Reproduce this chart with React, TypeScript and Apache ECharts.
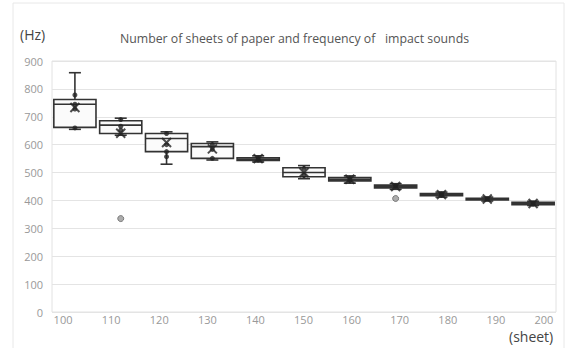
import React, { useEffect, useRef } from "react";
import * as echarts from "echarts";

const categories = ["100", "110", "120", "130", "140", "150", "160", "170", "180", "190", "200"];
const tickLabels = [100, 110, 120, 130, 140, 150, 160, 170, 180, 190, 200];
const yTicks = [0, 100, 200, 300, 400, 500, 600, 700, 800, 900];

// [min, Q1, median, Q3, max]
const boxMin = [655, 634, 530, 545, 538, 478, 462, 440, 412, 398, 382];
const boxQ1 = [662, 640, 575, 551, 543, 485, 470, 445, 417, 402, 385];
const boxMedian = [745, 670, 622, 593, 548, 500, 476, 450, 421, 405, 389];
const boxQ3 = [762, 686, 640, 604, 553, 517, 482, 455, 425, 408, 393];
const boxMax = [858, 695, 646, 610, 560, 525, 488, 460, 430, 412, 397];

const means = [733, 641, 608, 585, 550, 500, 476, 450, 421, 405, 389];

// inner points: [category index, value]
const innerPoints = [
  [0, 778], [0, 745], [0, 728], [0, 660],
  [1, 690], [1, 666], [1, 652],
  [2, 640], [2, 600], [2, 575], [2, 557],
  [3, 600], [3, 583], [3, 551],
  [4, 552], [4, 545],
  [5, 515], [5, 490],
  [6, 480], [6, 470],
  [7, 452],
  [8, 424], [8, 418],
  [9, 406],
  [10, 391], [10, 386],
];
const outliers = [
  [1, 335],
  [7, 407],
];

export default function App() {
  const ref = useRef<HTMLDivElement>(null);
  useEffect(() => {
    if (!ref.current) return;
    const chart = echarts.init(ref.current, undefined, { renderer: "svg" });
    const boxData = categories.map((_, i) => [i, boxMin[i], boxQ1[i], boxMedian[i], boxQ3[i], boxMax[i]]);
    const font = "'Open Sans', 'Noto Sans', sans-serif";
    const stroke = "#333";
    const renderBox = (params: any, api: any) => {
      const i = api.value(0);
      const pMin = api.coord([i, api.value(1)]);
      const pQ1 = api.coord([i, api.value(2)]);
      const pMed = api.coord([i, api.value(3)]);
      const pQ3 = api.coord([i, api.value(4)]);
      const pMax = api.coord([i, api.value(5)]);
      const band = api.size([1, 0])[0];
      const half = band * 0.46;
      const cap = 6;
      const x = pMed[0];
      const ls = { stroke, lineWidth: 1.6 };
      return {
        type: "group",
        children: [
          { type: "line", shape: { x1: x, y1: pQ3[1], x2: x, y2: pMax[1] }, style: ls },
          { type: "line", shape: { x1: x, y1: pQ1[1], x2: x, y2: pMin[1] }, style: ls },
          { type: "line", shape: { x1: x - cap, y1: pMax[1], x2: x + cap, y2: pMax[1] }, style: ls },
          { type: "line", shape: { x1: x - cap, y1: pMin[1], x2: x + cap, y2: pMin[1] }, style: ls },
          {
            type: "rect",
            shape: { x: x - half, y: pQ3[1], width: half * 2, height: pQ1[1] - pQ3[1] },
            style: { fill: "#fbfbfb", stroke, lineWidth: 1.6 },
          },
          { type: "line", shape: { x1: x - half, y1: pMed[1], x2: x + half, y2: pMed[1] }, style: ls },
        ],
      };
    };
    chart.setOption({
      animation: false,
      textStyle: { fontFamily: font },
      grid: {
        left: 52,
        right: 9,
        top: 61,
        bottom: 36,
        show: true,
        borderColor: "#e2e2e2",
        borderWidth: 1,
      },
      graphic: [
        {
          type: "rect",
          shape: { x: 13, y: 3, width: 551, height: 350 },
          style: { fill: "none", stroke: "#e8e8e8", lineWidth: 1 },
          silent: true,
        },
        {
          type: "text",
          left: 20,
          top: 27,
          style: { text: "(Hz)", fontSize: 14, fill: "#444", fontFamily: font },
        },
        {
          type: "text",
          left: 120,
          top: 32,
          style: {
            text: "Number of sheets of paper and frequency of   impact sounds",
            fontSize: 12.3,
            fill: "#555",
            fontFamily: font,
          },
        },
        {
          type: "text",
          left: 509,
          top: 329,
          style: { text: "(sheet)", fontSize: 14, fill: "#444", fontFamily: font },
        },
      ],
      xAxis: [
        {
          type: "category",
          data: categories,
          boundaryGap: true,
          axisLabel: { show: false },
          axisTick: { show: false },
          axisLine: { show: false },
          splitLine: { show: false },
        },
        {
          type: "value",
          position: "bottom",
          min: 97.7,
          max: 202.5,
          axisLabel: {
            customValues: tickLabels,
            color: "#999",
            fontSize: 11,
            margin: 2,
            fontFamily: font,
          },
          axisTick: { show: false },
          axisLine: { show: false },
          splitLine: { show: false },
        },
      ],
      yAxis: {
        type: "value",
        min: 0,
        max: 900,
        interval: 100,
        axisLabel: {
          color: "#999",
          fontSize: 11,
          margin: 9,
          fontFamily: font,
          customValues: yTicks,
        },
        axisLine: { show: false },
        axisTick: { show: false },
        splitLine: { lineStyle: { color: "#e4e4e4", width: 1 } },
      },
      series: [
        {
          type: "custom",
          xAxisIndex: 0,
          data: boxData,
          renderItem: renderBox,
          encode: { x: 0, y: [1, 2, 3, 4, 5] },
          z: 2,
        },
        {
          type: "scatter",
          xAxisIndex: 0,
          data: innerPoints,
          symbol: "circle",
          symbolSize: 5,
          itemStyle: { color: "#222" },
          z: 3,
        },
        {
          type: "scatter",
          xAxisIndex: 0,
          data: means.map((v, i) => [i, v]),
          symbol: "path://M0,0L10,10M10,0L0,10",
          symbolSize: 9,
          itemStyle: { color: "none", borderColor: "#222", borderWidth: 2 },
          z: 4,
        },
        {
          type: "scatter",
          xAxisIndex: 0,
          data: outliers,
          symbol: "circle",
          symbolSize: 6,
          itemStyle: { color: "#999", borderColor: "#666", borderWidth: 1 },
          z: 3,
        },
      ],
    });
    return () => chart.dispose();
  }, []);
  return <div ref={ref} style={{ width: 565, height: 348, position: "absolute", left: 0, top: 0, background: "#fff" }} />;
}
